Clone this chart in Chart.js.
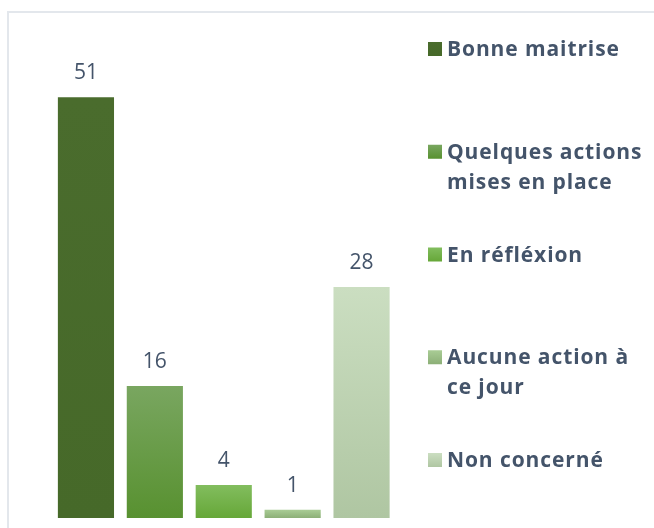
<!DOCTYPE html>
<html>
<head>
<meta charset="utf-8">
<script src="https://cdn.jsdelivr.net/npm/chart.js@4.4.0/dist/chart.umd.min.js"></script>
<style>
  html, body { margin: 0; padding: 0; background: #fff; overflow: hidden; }
  #frame { position: absolute; left: 7px; top: 11px; width: 700px; height: 560px; border: 2px solid #E3E7EC; box-sizing: border-box; }
  #wrap { position: absolute; left: 0; top: 0; width: 654px; height: 528px; }
</style>
</head>
<body>
<div id="frame"></div>
<div id="wrap"><canvas id="chart" width="654" height="528"></canvas></div>
<script>
const categories = ['Bonne maitrise', 'Quelques actions mises en place', 'En réfléxion', 'Aucune action à ce jour', 'Non concerné'];
const legendLines = [['Bonne maitrise'], ['Quelques actions', 'mises en place'], ['En réfléxion'], ['Aucune action à', 'ce jour'], ['Non concerné']];
const values = [51, 16, 4, 1, 28];
const topColors = ['#4A6C2D', '#79A660', '#82BD5E', '#A9CC95', '#CBDEC1'];
const bottomColors = ['#466929', '#589130', '#66A738', '#8CAF77', '#AFC6A2'];

const textColor = '#44546A';

function barGradient(context) {
  const chart = context.chart;
  const i = context.dataIndex;
  if (!chart.chartArea || i === undefined) return topColors[i || 0];
  const y = chart.scales.y;
  const top = y.getPixelForValue(values[i]);
  const base = y.getPixelForValue(0);
  const g = chart.ctx.createLinearGradient(0, top, 0, base);
  g.addColorStop(0, topColors[i]);
  g.addColorStop(1, bottomColors[i]);
  return g;
}

const labelsPlugin = {
  id: 'valueLabels',
  afterDatasetsDraw(chart) {
    const ctx = chart.ctx;
    const meta = chart.getDatasetMeta(0);
    ctx.save();
    ctx.font = '21px "Open Sans"';
    ctx.fillStyle = textColor;
    ctx.textAlign = 'center';
    ctx.textBaseline = 'alphabetic';
    meta.data.forEach((bar, i) => {
      ctx.fillText(String(values[i]), bar.x, bar.y - 18);
    });
    ctx.restore();
  }
};

const legendPlugin = {
  id: 'sideLegend',
  afterDraw(chart) {
    const ctx = chart.ctx;
    ctx.save();
    ctx.font = 'bold 21px "Open Sans"';
    ctx.letterSpacing = '0.9px';
    ctx.fillStyle = textColor;
    ctx.textAlign = 'left';
    ctx.textBaseline = 'alphabetic';
    legendLines.forEach((lines, i) => {
      const base = 56 + i * 102.75;
      const g = ctx.createLinearGradient(0, base - 14, 0, base);
      g.addColorStop(0, topColors[i]);
      g.addColorStop(1, bottomColors[i]);
      ctx.fillStyle = g;
      ctx.fillRect(428, base - 14, 14, 14);
      ctx.fillStyle = textColor;
      lines.forEach((line, j) => {
        ctx.fillText(line, 447, base + j * 30);
      });
    });
    ctx.restore();
  }
};

const ctx = document.getElementById('chart').getContext('2d');
const myChart = new Chart(ctx, {
  type: 'bar',
  data: {
    labels: categories,
    datasets: [{
      label: 'Réponses',
      data: values,
      backgroundColor: barGradient,
      borderWidth: 0,
      categoryPercentage: 1,
      barPercentage: 0.815
    }]
  },
  options: {
    responsive: false,
    animation: false,
    layout: { padding: { left: 51.5, right: 258, top: 23, bottom: 10 } },
    scales: {
      x: { display: false },
      y: { display: false, min: 0, max: 60 }
    },
    plugins: {
      legend: { display: false },
      tooltip: { enabled: false }
    }
  },
  plugins: [labelsPlugin, legendPlugin]
});
</script>
</body>
</html>
